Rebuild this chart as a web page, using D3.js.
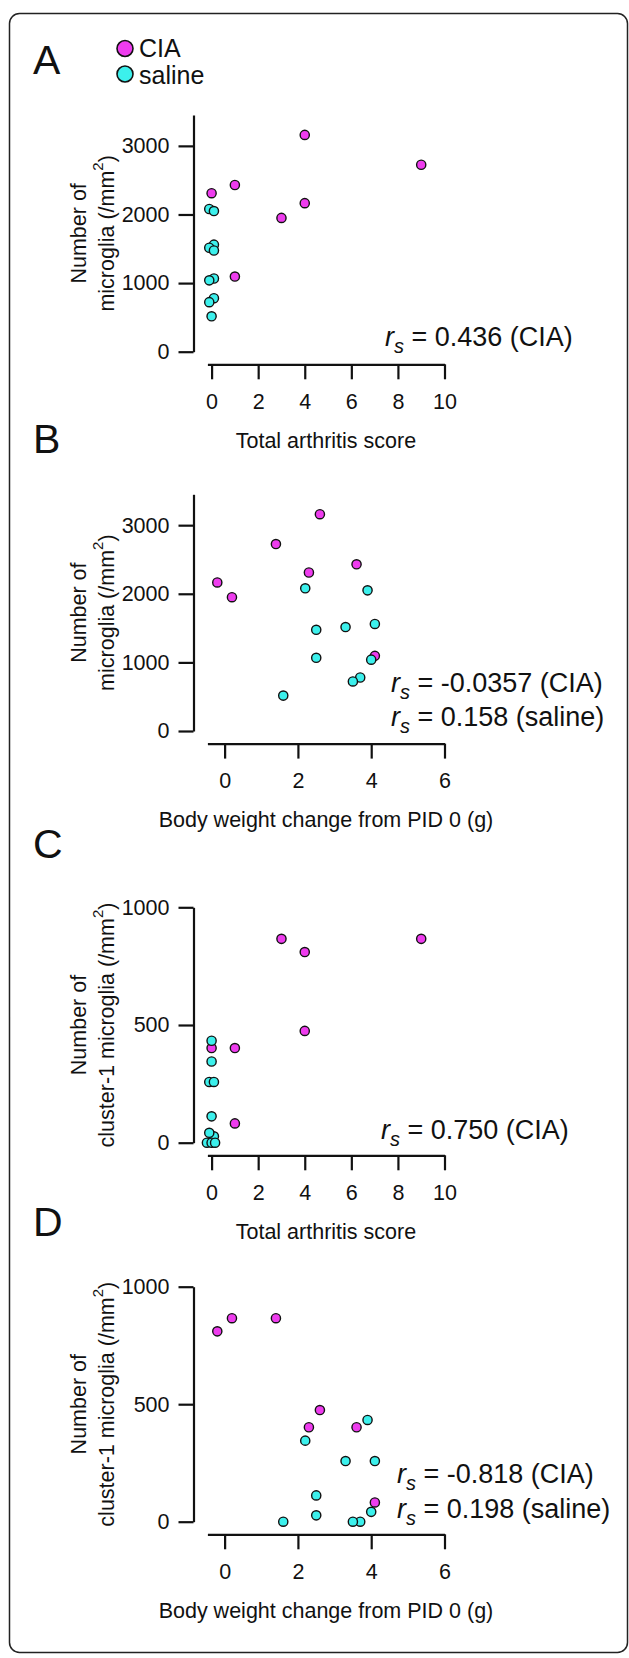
<!DOCTYPE html>
<html><head><meta charset="utf-8">
<script src="https://cdn.jsdelivr.net/npm/d3@7"></script>
<style>
body{margin:0;background:#fff}
svg{display:block}
text{font-family:"Liberation Sans",Arial,Helvetica,sans-serif;fill:#111}
</style>
</head><body>
<svg id="c" width="629" height="1658"></svg>
<script>
// ---- data ----
const groups = ["CIA", "saline"];
const colors = ["#ee3cee", "#3cf0ec"];

// CIA animals
const ciaScore     = [0, 1, 3, 4, 4, 1, 9];
const ciaWeight    = [2.3, 3.6, 0.2, 2.6, -0.2, 4.1, 1.4];
const ciaMicroglia = [2310, 2430, 1950, 3160, 2165, 1095, 2725];
const ciaCluster1  = [402, 402, 866, 475, 810, 82, 866];

// saline animals (arthritis score is 0 for all; small horizontal jitter as drawn)
const salineScoreA     = [-0.1, 0.1, 0.1, -0.1, 0.1, 0.1, -0.1, 0.1, -0.1, 0];
const salineScoreC     = [0, 0, -0.1, 0.1, 0, 0.1, -0.1, -0.2, 0, 0.15];
const salineWeight     = [2.2, 3.9, 4.1, 3.3, 2.5, 2.5, 4.0, 3.7, 3.5, 1.6];
const salineMicroglia  = [2080, 2050, 1560, 1515, 1475, 1067, 1040, 780, 722, 516];
const salineCluster1   = [345, 433, 258, 258, 112, 27, 42, 0, 0, 0];

const scoreTicks  = [0, 2, 4, 6, 8, 10];
const weightTicks = [0, 2, 4, 6];
const microTicks  = [0, 1000, 2000, 3000];
const clusterTicks = [0, 500, 1000];

const scoreTitle  = "Total arthritis score";
const weightTitle = "Body weight change from PID 0 (g)";

// ---- drawing ----
const svg = d3.select("#c");
const FONT = 21.5;

svg.append("rect")
  .attr("x", 9.5).attr("y", 13.5).attr("width", 618).attr("height", 1639)
  .attr("rx", 10).attr("fill", "none").attr("stroke", "#222").attr("stroke-width", 1.5);

// legend
const leg = svg.append("g");
groups.forEach((g, i) => {
  leg.append("circle").attr("cx", 125).attr("cy", 48.5 + i * 25.5).attr("r", 8)
    .attr("fill", colors[i]).attr("stroke", "#111").attr("stroke-width", 1.6);
  leg.append("text").attr("x", 139).attr("y", 57 + i * 26.5)
    .attr("font-size", 25).text(g);
});

const panels = [
  {letter: "A", letterY: 74, top: 115, zero: 351.7,
   xDom: [-0.18, 10], xTicks: scoreTicks, yDom: [0, 3450], yTicks: microTicks,
   line1: "Number of", line2: "microglia (/mm", xTitle: scoreTitle,
   series: [[ciaScore, ciaMicroglia], [salineScoreA, salineMicroglia]],
   ann: ["0.436 (CIA)"], annX: 385, annY: [346]},
  {letter: "B", letterY: 453, top: 494.3, zero: 731,
   xDom: [-0.47, 6], xTicks: weightTicks, yDom: [0, 3450], yTicks: microTicks,
   line1: "Number of", line2: "microglia (/mm", xTitle: weightTitle,
   series: [[ciaWeight, ciaMicroglia], [salineWeight, salineMicroglia]],
   ann: ["-0.0357 (CIA)", "0.158 (saline)"], annX: 391, annY: [692, 726]},
  {letter: "C", letterY: 858, top: 907.3, zero: 1142.7,
   xDom: [-0.18, 10], xTicks: scoreTicks, yDom: [0, 1000], yTicks: clusterTicks,
   line1: "Number of", line2: "cluster-1 microglia (/mm", xTitle: scoreTitle,
   series: [[ciaScore, ciaCluster1], [salineScoreC, salineCluster1]],
   ann: ["0.750 (CIA)"], annX: 381, annY: [1139]},
  {letter: "D", letterY: 1236, top: 1286.7, zero: 1521.7,
   xDom: [-0.47, 6], xTicks: weightTicks, yDom: [0, 1000], yTicks: clusterTicks,
   line1: "Number of", line2: "cluster-1 microglia (/mm", xTitle: weightTitle,
   series: [[ciaWeight, ciaCluster1], [salineWeight, salineCluster1]],
   ann: ["-0.818 (CIA)", "0.198 (saline)"], annX: 397, annY: [1483, 1518]}
];

const AXIS_X = 193.5, XL = 207.4, XR = 444.5;

panels.forEach(p => {
  const g = svg.append("g");
  g.append("text").attr("x", 33).attr("y", p.letterY).attr("font-size", 41).text(p.letter);

  const x = d3.scaleLinear().domain(p.xDom).range([XL, XR]);
  const y = d3.scaleLinear().domain(p.yDom).range([p.zero, p.top]);

  const ya = g.append("g").attr("transform", `translate(${AXIS_X},0)`)
    .call(d3.axisLeft(y).tickValues(p.yTicks).tickSize(15).tickSizeOuter(0).tickPadding(9).tickFormat(d3.format("d")));
  const xa = g.append("g").attr("transform", `translate(0,${p.zero + 12.6})`)
    .call(d3.axisBottom(x).tickValues(p.xTicks).tickSize(15).tickSizeOuter(0).tickPadding(14).tickFormat(d3.format("d")));
  [ya, xa].forEach(a => {
    a.selectAll(".domain").attr("stroke", "#111").attr("stroke-width", 2.2);
    a.selectAll(".tick line").attr("stroke", "#111").attr("stroke-width", 2.2);
    a.selectAll("text").attr("font-size", FONT).attr("fill", "#111")
      .attr("font-family", '"Liberation Sans",Arial,Helvetica,sans-serif');
  });

  // y title
  const cy = (p.top + p.zero) / 2;
  const yt = g.append("g").attr("transform", `translate(0,${cy}) rotate(-90)`);
  yt.append("text").attr("x", 0).attr("y", 86).attr("text-anchor", "middle")
    .attr("font-size", FONT).text(p.line1);
  const t2 = yt.append("text").attr("x", 0).attr("y", 114).attr("text-anchor", "middle")
    .attr("font-size", FONT);
  t2.append("tspan").text(p.line2);
  t2.append("tspan").attr("font-size", 15).attr("dy", -11).text("2");
  t2.append("tspan").attr("dy", 11).text(")");

  // x title
  g.append("text").attr("x", (XL + XR) / 2).attr("y", p.zero + 12.6 + 83.5)
    .attr("text-anchor", "middle").attr("font-size", FONT).text(p.xTitle);

  // points
  p.series.forEach((s, i) => {
    const pts = s[0].map((v, j) => [v, s[1][j]]);
    g.append("g").selectAll("circle").data(pts).join("circle")
      .attr("cx", d => x(d[0])).attr("cy", d => y(d[1])).attr("r", 4.6)
      .attr("fill", colors[i]).attr("stroke", "#111").attr("stroke-width", 1.4);
  });

  // annotation
  p.ann.forEach((a, k) => {
    const t = g.append("text").attr("x", p.annX).attr("y", p.annY[k]).attr("font-size", 27);
    t.append("tspan").attr("font-style", "italic").text("r");
    t.append("tspan").attr("font-style", "italic").attr("font-size", 20).attr("dy", 7).text("s");
    t.append("tspan").attr("dy", -7).text(" = " + a);
  });
});
</script>
</body></html>
